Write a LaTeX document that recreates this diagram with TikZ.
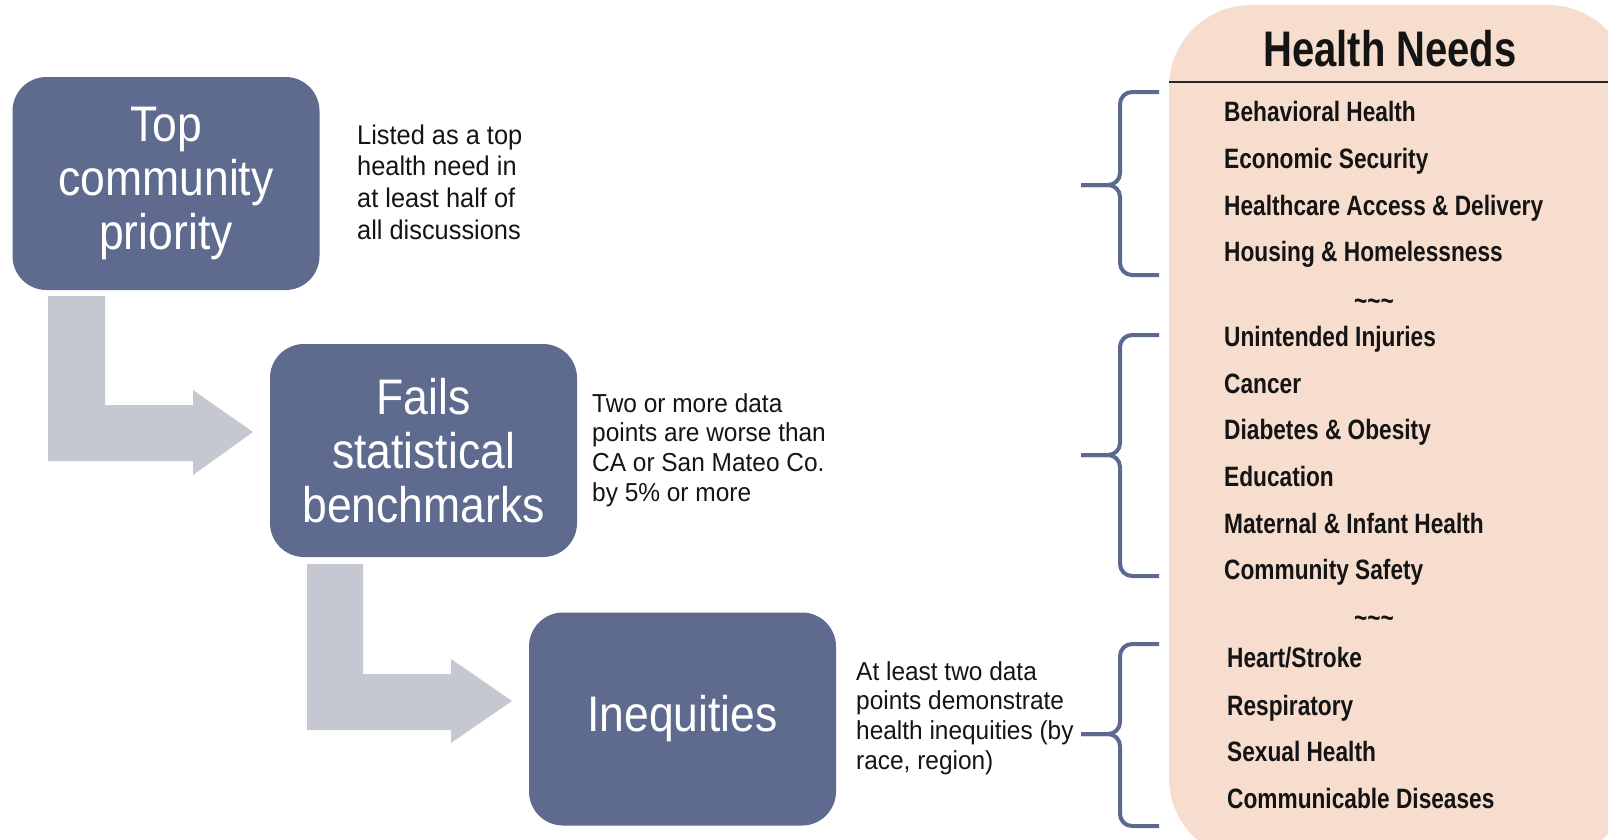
\documentclass[tikz,border=0pt]{standalone}
\usepackage{fontspec}
\setmainfont{Liberation Sans}
\newfontfamily\boxfont[FakeStretch=0.89]{Liberation Sans}
\newfontfamily\descfont[FakeStretch=0.94]{Liberation Sans}
\newfontfamily\needfont[FakeStretch=0.81]{Liberation Sans}
\newfontfamily\titlefont[FakeStretch=0.80]{Liberation Sans}

\definecolor{stagefill}{RGB}{94,106,142}
\definecolor{flowgray}{RGB}{197,200,208}
\definecolor{panelfill}{RGB}{246,221,206}
\definecolor{bracecol}{RGB}{91,104,143}
\definecolor{inkcol}{RGB}{20,20,20}

\begin{document}
\begin{tikzpicture}[x=1pt,y=-1pt,
  stage/.style={rectangle, rounded corners=34pt, fill=stagefill, text=white,
    minimum width=307pt, minimum height=213pt, align=center, inner sep=0pt,
    font=\boxfont\fontsize{50}{54}\selectfont},
  desc/.style={anchor=west, align=left, inner sep=0pt, text=inkcol,
    font=\descfont\fontsize{26}{29.7}\selectfont},
  need/.style={anchor=base west, inner sep=0pt, text=inkcol,
    font=\needfont\bfseries\fontsize{28}{32}\selectfont},
  sep/.style={anchor=base, inner sep=0pt, text=inkcol,
    font=\needfont\bfseries\fontsize{28}{32}\selectfont},
  flow/.style={fill=flowgray},
  brace/.style={draw=bracecol, line width=4pt, rounded corners=12pt}]

\useasboundingbox (0,0) rectangle (1608,839);
\clip (0,0) rectangle (1608,839);

% Health needs panel
\fill[panelfill, rounded corners=82pt] (1169,5) rectangle (1630,860);
\node[font=\titlefont\bfseries\fontsize{50}{54}\selectfont, text=inkcol, inner sep=0pt]
  (title) at (1390,49) {Health Needs};
\coordinate (ruleL) at (1169,82);
\coordinate (ruleR) at (1608,82);
\draw[line width=1.5pt, black!85] (ruleL) -- (ruleR);

% list of needs
\foreach \n/\y/\t in {
  a1/111/Behavioral Health,
  a2/158/Economic Security,
  a3/205/Healthcare Access \& Delivery,
  a4/251/Housing \& Homelessness,
  b1/336/Unintended Injuries,
  b2/383/Cancer,
  b3/429/Diabetes \& Obesity,
  b4/476/Education,
  b5/523/Maternal \& Infant Health,
  b6/569/Community Safety}
  \node[need] (\n) at (1224,\y+10) {\t};
\foreach \n/\y/\t in {
  c1/657/{Heart/Stroke},
  c2/705/Respiratory,
  c3/751/Sexual Health,
  c4/798/Communicable Diseases}
  \node[need] (\n) at (1227,\y+10) {\t};
\node[sep] (sep1) at (1374,310) {\textasciitilde\textasciitilde\textasciitilde};
\node[sep] (sep2) at (1374,627) {\textasciitilde\textasciitilde\textasciitilde};

% stages
\node[stage] (top) at (166,183.5) {Top\\community\\priority};
\node[stage] (fails) at (423.5,450.5) {Fails\\statistical\\benchmarks};
\node[stage] (ineq) at (682.5,719) {Inequities};

% criteria
\node[desc, font=\descfont\fontsize{27}{31.6}\selectfont] (d1) at (357,182)
  {Listed as a top\\health need in\\at least half of\\all discussions};
\node[desc] (d2) at (592,450) {Two or more data\\points are worse than\\CA or San Mateo Co.\\by 5\% or more};
\node[desc] (d3) at (856,718) {At least two data\\points demonstrate\\health inequities (by\\race, region)};

% bent flow arrows
\fill[flow] (48,296) -- (105,296) -- (105,405) -- (193,405) -- (193,390)
  -- (253,432) -- (193,475) -- (193,461) -- (48,461) -- cycle;
\fill[flow] (307,564) -- (363,564) -- (363,674) -- (451,674) -- (451,659)
  -- (512,701) -- (451,743) -- (451,730) -- (307,730) -- cycle;

% braces grouping the needs
\foreach \t/\m/\b in {92/185/275, 335/455/576, 644/734/826} {
  \draw[brace] (1159,\t) -- (1120,\t) -- (1120,\m) -- (1081,\m);
  \draw[brace] (1159,\b) -- (1120,\b) -- (1120,\m) -- (1081,\m);
}
\end{tikzpicture}
\end{document}
